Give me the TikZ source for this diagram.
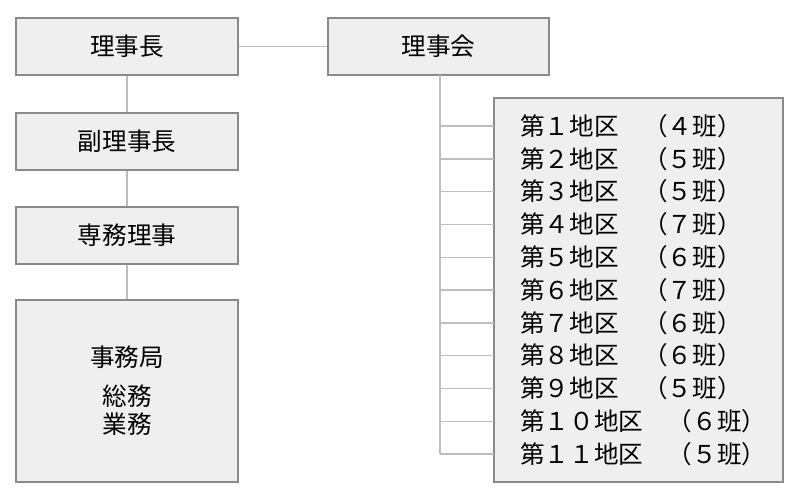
\documentclass[tikz,border=0pt]{standalone}
\usepackage{fontspec}
\setmainfont{Noto Sans CJK JP}
\definecolor{boxfill}{HTML}{EFEFEF}
\definecolor{boxline}{HTML}{8A8A8A}
\definecolor{linkline}{HTML}{BDBDBD}
\tikzset{
  orgbox/.style={draw=boxline,fill=boxfill,line width=0.8pt,font=\fontsize{14}{16}\selectfont},
  link/.style={draw=linkline,line width=0.8pt}
}
\begin{document}
\begin{tikzpicture}[x=0.02cm,y=-0.02cm]
\useasboundingbox (0,0) rectangle (800,500);
% main column
\node[orgbox,minimum width=222*0.02cm,minimum height=57*0.02cm] (chair) at (127,46.5) {理事長};
\node[orgbox,minimum width=221*0.02cm,minimum height=57*0.02cm] (board) at (438.5,46.5) {理事会};
\node[orgbox,minimum width=222*0.02cm,minimum height=57*0.02cm] (vice) at (127,141.5) {副理事長};
\node[orgbox,minimum width=222*0.02cm,minimum height=57*0.02cm] (exec) at (127,235.5) {専務理事};
\node[orgbox,minimum width=222*0.02cm,minimum height=182*0.02cm,align=center] (office) at (127,391)
  {事務局\\[6pt]総務\\業務};
\draw[link] (chair) -- (board);
\draw[link] (chair) -- (vice);
\draw[link] (vice) -- (exec);
\draw[link] (exec) -- (office);
% districts
\node[orgbox,minimum width=289*0.02cm,minimum height=384*0.02cm] (area) at (638.5,290) {};
\coordinate (trunk) at (440,75);
\foreach \k/\n in {1/４,2/５,3/５,4/７,5/６,6/７,7/６,8/６,9/５}{
  \coordinate (t\k) at (494,{126+(\k-1)*32.8});
  \node[anchor=west,font=\fontsize{14}{16}\selectfont,inner sep=0pt] (d\k) at (520,{126+(\k-1)*32.8})
    {第\char\numexpr"FF10+\k\relax 地区　（\n 班）};
}
\foreach \k/\a/\n in {10/１０/６,11/１１/５}{
  \coordinate (t\k) at (494,{126+(\k-1)*32.8});
  \node[anchor=west,font=\fontsize{14}{16}\selectfont,inner sep=0pt] (d\k) at (520,{126+(\k-1)*32.8})
    {第\a 地区　（\n 班）};
}
\draw[link] (trunk) -- (440,454);
\foreach \k in {1,...,11}
  \draw[link] (440,{126+(\k-1)*32.8}) -- (t\k);
\end{tikzpicture}
\end{document}
